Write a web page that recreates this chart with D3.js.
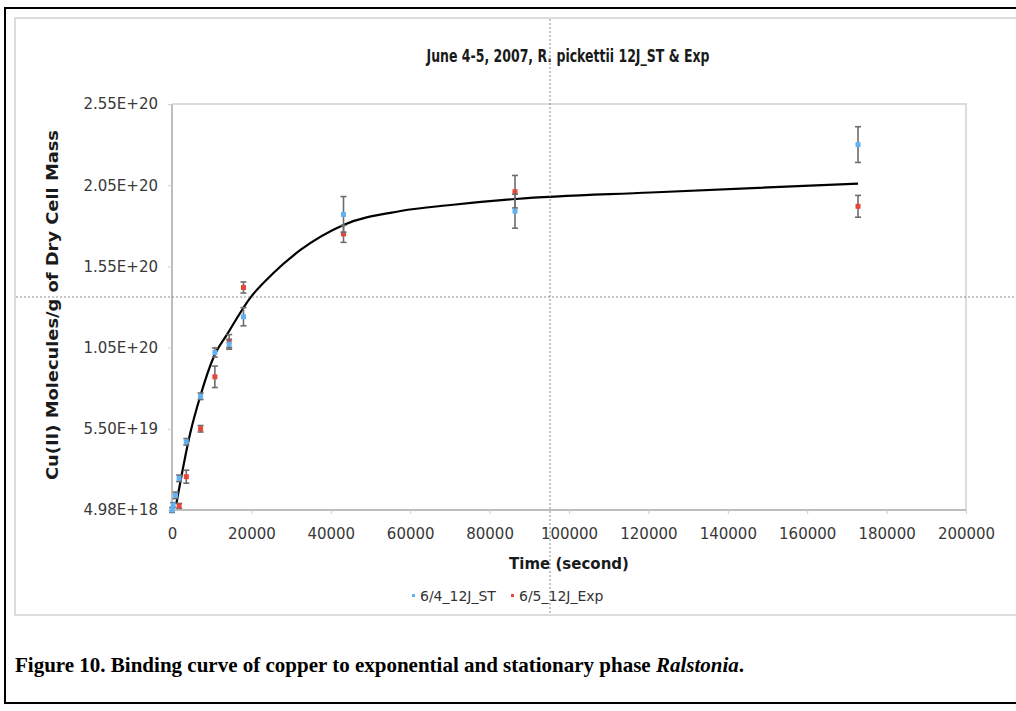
<!DOCTYPE html>
<html>
<head>
<meta charset="utf-8">
<title>Binding curve of copper</title>
<style>
  body { margin: 0; background: #fff; }
  svg { display: block; }
</style>
</head>
<body>
<script src="https://d3js.org/d3.v7.min.js"></script>
<script>
// 6/4_12J_ST (stationary)
var stTime  = [0, 300, 900, 1800, 3600, 7200, 10800, 14400, 18000, 43200, 86400, 172800];
var stValue = [5.0e18, 8.0e18, 1.4e19, 2.45e19, 4.7e19, 7.5e19, 1.02e20, 1.07e20, 1.24e20, 1.87e20, 1.89e20, 2.30e20];
var stError = [1.5e18, 1.5e18, 2e18, 2e18, 2e18, 2e18, 2.8e18, 3e18, 5.6e18, 1.1e19, 1.05e19, 1.1e19];

// 6/5_12J_Exp (exponential)
var expTime  = [1800, 3600, 7200, 10800, 14400, 18000, 43200, 86400, 172800];
var expValue = [7.5e18, 2.55e19, 5.5e19, 8.7e19, 1.09e20, 1.42e20, 1.75e20, 2.01e20, 1.92e20];
var expError = [1.5e18, 4e18, 2e18, 6.6e18, 4e18, 3.4e18, 5.2e18, 1e19, 6.7e18];

// fitted binding curve
var fitTime  = [1085, 4600, 7140, 10500, 13950, 19750, 25550, 32360, 43200, 57600, 70200, 86600, 120600, 172800];
var fitValue = [8.7e18, 5.24e19, 7.52e19, 9.92e19, 1.134e20, 1.358e20, 1.509e20, 1.651e20, 1.805e20, 1.891e20, 1.928e20, 1.965e20, 2.005e20, 2.06e20];

var xTicks = [0, 20000, 40000, 60000, 80000, 100000, 120000, 140000, 160000, 180000, 200000];
var yTicks = [4.98e18, 5.50e19, 1.05e20, 1.55e20, 2.05e20, 2.55e20];
var yTickLabels = ["4.98E+18", "5.50E+19", "1.05E+20", "1.55E+20", "2.05E+20", "2.55E+20"];

var W = 1016, H = 711;
var plot = {left: 172, right: 966, top: 104, bottom: 510};

var svg = d3.select("body").append("svg")
    .attr("width", W).attr("height", H)
    .style("font-family", "'DejaVu Sans', Verdana, sans-serif");

// outer frame and chart panel
svg.append("rect").attr("x", 5).attr("y", 8).attr("width", 1040).attr("height", 695)
    .attr("fill", "#fff").attr("stroke", "#000").attr("stroke-width", 2);
svg.append("rect").attr("x", 15).attr("y", 18).attr("width", 1030).attr("height", 597)
    .attr("fill", "#fff").attr("stroke", "#dcdcdc").attr("stroke-width", 2);

var x = d3.scaleLinear().domain([0, 200000]).range([plot.left, plot.right]);
var y = d3.scaleLinear().domain([4.98e18, 2.55e20]).range([plot.bottom, plot.top]);

// plot area border
svg.append("path")
    .attr("d", "M" + plot.left + "," + plot.top + "H" + plot.right + "V" + plot.bottom)
    .attr("fill", "none").attr("stroke", "#dcdcdc").attr("stroke-width", 2);

// axes
var yAxis = svg.append("g")
    .attr("transform", "translate(" + plot.left + ",0)")
    .call(d3.axisLeft(y).tickValues(yTicks).tickSize(4).tickPadding(10)
        .tickFormat(function(d, i){ return yTickLabels[i]; }));
var xAxis = svg.append("g")
    .attr("transform", "translate(0," + plot.bottom + ")")
    .call(d3.axisBottom(x).tickValues(xTicks).tickSize(4).tickPadding(14).tickFormat(d3.format("d")));

[xAxis, yAxis].forEach(function(g){
  g.select(".domain").attr("stroke", "#bdbdbd").attr("stroke-width", 2);
  g.selectAll(".tick line").attr("stroke", "#cfcfcf");
  g.selectAll(".tick text").attr("fill", "#383838")
      .style("font-family", "'DejaVu Sans', Verdana, sans-serif").style("font-size", "15px");
});
yAxis.select(".domain").attr("d", "M0," + plot.top + "V" + plot.bottom);
xAxis.select(".domain").attr("d", "M" + plot.left + ",0H" + plot.right);

// fitted curve
var fit = fitTime.map(function(t, i){ return [t, fitValue[i]]; });
svg.append("path")
    .datum(fit)
    .attr("fill", "none").attr("stroke", "#000").attr("stroke-width", 2.2)
    .attr("d", d3.line().x(function(d){ return x(d[0]); }).y(function(d){ return y(d[1]); })
        .curve(d3.curveMonotoneX));

function drawSeries(times, values, errors, color) {
  var data = times.map(function(t, i){ return {t: t, v: values[i], e: errors[i]}; });
  var g = svg.append("g");
  var eb = g.selectAll(".err").data(data).enter().append("g").attr("class", "err")
      .attr("stroke", "#6d6d6d").attr("stroke-width", 1.6);
  eb.append("line")
      .attr("x1", function(d){ return x(d.t); }).attr("x2", function(d){ return x(d.t); })
      .attr("y1", function(d){ return y(d.v - d.e); }).attr("y2", function(d){ return y(d.v + d.e); });
  eb.append("line")
      .attr("x1", function(d){ return x(d.t) - 3; }).attr("x2", function(d){ return x(d.t) + 3; })
      .attr("y1", function(d){ return y(d.v - d.e); }).attr("y2", function(d){ return y(d.v - d.e); });
  eb.append("line")
      .attr("x1", function(d){ return x(d.t) - 3; }).attr("x2", function(d){ return x(d.t) + 3; })
      .attr("y1", function(d){ return y(d.v + d.e); }).attr("y2", function(d){ return y(d.v + d.e); });
  g.selectAll(".pt").data(data).enter().append("rect").attr("class", "pt")
      .attr("x", function(d){ return x(d.t) - 2.5; })
      .attr("y", function(d){ return y(d.v) - 2.5; })
      .attr("width", 5).attr("height", 5)
      .attr("fill", color);
}
drawSeries(expTime, expValue, expError, "#e5473b");
drawSeries(stTime, stValue, stError, "#62b1f2");

// titles
svg.append("text")
    .attr("x", 568).attr("y", 62).attr("text-anchor", "middle")
    .attr("textLength", 283).attr("lengthAdjust", "spacingAndGlyphs")
    .style("font-size", "18px").style("font-weight", "bold").attr("fill", "#1a1a1a")
    .text("June 4-5, 2007, R. pickettii 12J_ST & Exp");

svg.append("text")
    .attr("transform", "translate(58,305) rotate(-90)")
    .attr("text-anchor", "middle")
    .attr("textLength", 350).attr("lengthAdjust", "spacingAndGlyphs")
    .style("font-size", "16px").style("font-weight", "bold").attr("fill", "#1a1a1a")
    .text("Cu(II) Molecules/g of Dry Cell Mass");

svg.append("text")
    .attr("x", 569).attr("y", 569).attr("text-anchor", "middle")
    .style("font-size", "15px").style("font-weight", "bold").attr("fill", "#1a1a1a")
    .text("Time (second)");

// legend
var legend = svg.append("g").attr("transform", "translate(0,601)");
var items = [{label: "6/4_12J_ST", color: "#62b1f2", x: 412}, {label: "6/5_12J_Exp", color: "#e5473b", x: 511}];
items.forEach(function(it){
  legend.append("rect").attr("x", it.x).attr("y", -7).attr("width", 3).attr("height", 3).attr("fill", it.color);
  legend.append("text").attr("x", it.x + 8).attr("y", 0)
      .style("font-size", "14px").attr("fill", "#333").text(it.label);
});

// crosshair dotted lines
svg.append("line").attr("x1", 550).attr("x2", 550).attr("y1", 19).attr("y2", 614)
    .attr("stroke", "#8a8a8a").attr("stroke-width", 1).attr("stroke-dasharray", "2,2");
svg.append("line").attr("x1", 16).attr("x2", 1016).attr("y1", 297).attr("y2", 297)
    .attr("stroke", "#8a8a8a").attr("stroke-width", 1).attr("stroke-dasharray", "2,2");

// caption
var cap = svg.append("text").attr("x", 15).attr("y", 672)
    .style("font-family", "'Liberation Serif', 'Times New Roman', serif")
    .style("font-size", "21px").style("font-weight", "bold").attr("fill", "#000");
cap.append("tspan").text("Figure 10. Binding curve of copper to exponential and stationary phase ");
cap.append("tspan").style("font-style", "italic").text("Ralstonia");
cap.append("tspan").text(".");
</script>
</body>
</html>
